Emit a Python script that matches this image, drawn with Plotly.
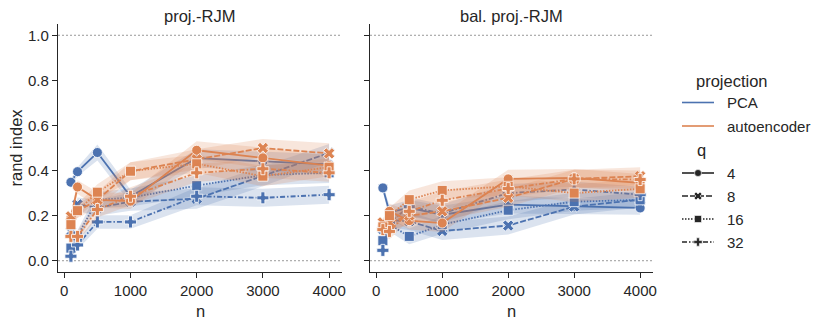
import plotly.graph_objects as go

n_values = [100, 200, 500, 1000, 2000, 3000, 4000]
q_labels = ["4", "8", "16", "32"]
panel_titles = ["proj.-RJM", "bal. proj.-RJM"]
projections = ["PCA", "autoencoder"]

# proj.-RJM
rjm_pca_q4 = [0.348, 0.395, 0.480, 0.285, 0.455, 0.440, 0.427]
rjm_pca_q8 = [0.130, 0.250, 0.235, 0.262, 0.275, 0.375, 0.478]
rjm_pca_q16 = [0.056, 0.110, 0.270, 0.280, 0.333, 0.380, 0.390]
rjm_pca_q32 = [0.020, 0.070, 0.172, 0.172, 0.286, 0.279, 0.293]
rjm_ae_q4 = [0.190, 0.327, 0.270, 0.264, 0.490, 0.456, 0.422]
rjm_ae_q8 = [0.197, 0.220, 0.270, 0.397, 0.450, 0.500, 0.476]
rjm_ae_q16 = [0.160, 0.222, 0.304, 0.397, 0.430, 0.375, 0.415]
rjm_ae_q32 = [0.108, 0.108, 0.227, 0.286, 0.390, 0.408, 0.390]

# bal. proj.-RJM
bal_pca_q4 = [0.323, 0.215, 0.234, 0.204, 0.249, 0.241, 0.234]
bal_pca_q8 = [0.140, 0.180, 0.175, 0.132, 0.156, 0.240, 0.271]
bal_pca_q16 = [0.089, 0.160, 0.108, 0.160, 0.224, 0.262, 0.270]
bal_pca_q32 = [0.046, 0.170, 0.240, 0.210, 0.300, 0.316, 0.293]
bal_ae_q4 = [0.160, 0.219, 0.178, 0.167, 0.363, 0.367, 0.345]
bal_ae_q8 = [0.170, 0.170, 0.200, 0.219, 0.279, 0.363, 0.375]
bal_ae_q16 = [0.150, 0.200, 0.271, 0.312, 0.330, 0.300, 0.319]
bal_ae_q32 = [0.138, 0.130, 0.219, 0.268, 0.320, 0.363, 0.360]

# half widths of the 95% CI bands
rjm_pca_q4_ci = [0.015, 0.020, 0.035, 0.030, 0.040, 0.045, 0.045]
rjm_pca_q8_ci = [0.020, 0.030, 0.035, 0.040, 0.045, 0.045, 0.040]
rjm_pca_q16_ci = [0.015, 0.025, 0.035, 0.040, 0.045, 0.045, 0.045]
rjm_pca_q32_ci = [0.010, 0.020, 0.030, 0.030, 0.040, 0.040, 0.040]
rjm_ae_q4_ci = [0.020, 0.030, 0.035, 0.035, 0.040, 0.045, 0.045]
rjm_ae_q8_ci = [0.025, 0.030, 0.035, 0.040, 0.045, 0.040, 0.045]
rjm_ae_q16_ci = [0.020, 0.030, 0.035, 0.040, 0.040, 0.045, 0.040]
rjm_ae_q32_ci = [0.015, 0.025, 0.035, 0.040, 0.040, 0.040, 0.040]
bal_pca_q4_ci = [0.015, 0.030, 0.035, 0.040, 0.040, 0.035, 0.030]
bal_pca_q8_ci = [0.020, 0.030, 0.040, 0.040, 0.040, 0.035, 0.035]
bal_pca_q16_ci = [0.015, 0.030, 0.035, 0.040, 0.040, 0.040, 0.035]
bal_pca_q32_ci = [0.010, 0.030, 0.040, 0.040, 0.040, 0.035, 0.035]
bal_ae_q4_ci = [0.020, 0.035, 0.040, 0.040, 0.040, 0.040, 0.040]
bal_ae_q8_ci = [0.020, 0.035, 0.040, 0.040, 0.040, 0.040, 0.040]
bal_ae_q16_ci = [0.020, 0.035, 0.040, 0.040, 0.040, 0.040, 0.040]
bal_ae_q32_ci = [0.020, 0.035, 0.040, 0.040, 0.040, 0.040, 0.040]

panels = [
    [[rjm_pca_q4, rjm_pca_q8, rjm_pca_q16, rjm_pca_q32],
     [rjm_ae_q4, rjm_ae_q8, rjm_ae_q16, rjm_ae_q32]],
    [[bal_pca_q4, bal_pca_q8, bal_pca_q16, bal_pca_q32],
     [bal_ae_q4, bal_ae_q8, bal_ae_q16, bal_ae_q32]],
]
panels_ci = [
    [[rjm_pca_q4_ci, rjm_pca_q8_ci, rjm_pca_q16_ci, rjm_pca_q32_ci],
     [rjm_ae_q4_ci, rjm_ae_q8_ci, rjm_ae_q16_ci, rjm_ae_q32_ci]],
    [[bal_pca_q4_ci, bal_pca_q8_ci, bal_pca_q16_ci, bal_pca_q32_ci],
     [bal_ae_q4_ci, bal_ae_q8_ci, bal_ae_q16_ci, bal_ae_q32_ci]],
]

colors = ["#4c72b0", "#dd8452"]
bands = ["rgba(76,114,176,0.2)", "rgba(221,132,82,0.2)"]
dashes = ["solid", "6px,2px", "1.5px,1.5px", "5px,2px,1.5px,2px"]
symbols = ["circle", "x", "square", "cross"]
ink = "#262626"
font = "Liberation Sans, Arial, sans-serif"
tick_size = 15
label_size = 16.5

# the page body adds an 8px offset, so the figure is 8px smaller than the window
W, H = 822, 315
ML, MT, MB = 50, 16, 51
PH = H - MT - MB  # 248


def py(page_y):
    # page pixel row -> paper coordinate
    return (MT + 8 + PH - page_y) / PH


def px(page_x):
    return (page_x - 8 - ML) / (W - ML)


fig = go.Figure()
axes = [("x", "y"), ("x2", "y2")]

for p, (xa, ya) in enumerate(axes):
    for h in range(2):
        for s in range(4):
            y = panels[p][h][s]
            ci = panels_ci[p][h][s]
            upper = [v + c for v, c in zip(y, ci)]
            lower = [v - c for v, c in zip(y, ci)]
            fig.add_trace(go.Scatter(x=n_values, y=upper, mode="lines", line=dict(width=0),
                                     xaxis=xa, yaxis=ya, showlegend=False, hoverinfo="skip"))
            fig.add_trace(go.Scatter(x=n_values, y=lower, mode="lines", line=dict(width=0),
                                     fill="tonexty", fillcolor=bands[h],
                                     xaxis=xa, yaxis=ya, showlegend=False, hoverinfo="skip"))
            fig.add_trace(go.Scatter(
                x=n_values, y=y, mode="lines+markers",
                line=dict(color=colors[h], width=1.8, dash=dashes[s]),
                marker=dict(symbol=symbols[s], size=10, color=colors[h],
                            line=dict(color="white", width=0.8)),
                xaxis=xa, yaxis=ya, showlegend=False,
                name=f"{projections[h]}, q={q_labels[s]}"))

# legend drawn on a hidden axis in page pixel units
for i, name in enumerate(projections):
    yy = [102.5, 126][i]
    fig.add_trace(go.Scatter(x=[682, 714], y=[yy, yy], mode="lines",
                             line=dict(color=colors[i], width=1.6),
                             xaxis="x3", yaxis="y3", showlegend=False, hoverinfo="skip"))
    fig.add_annotation(x=725, y=yy, xref="x3", yref="y3", text=name, showarrow=False,
                       xanchor="left", yanchor="middle", font=dict(size=tick_size, color=ink, family=font))
for s, lab in enumerate(q_labels):
    yy = [173, 196, 219, 242][s]
    fig.add_trace(go.Scatter(x=[682, 714], y=[yy, yy], mode="lines",
                             line=dict(color=ink, width=1.6, dash=dashes[s]),
                             xaxis="x3", yaxis="y3", showlegend=False, hoverinfo="skip"))
    fig.add_trace(go.Scatter(x=[698], y=[yy], mode="markers",
                             marker=dict(symbol=symbols[s], size=7, color=ink,
                                         line=dict(color="white", width=0.6)),
                             xaxis="x3", yaxis="y3", showlegend=False, hoverinfo="skip"))
    fig.add_annotation(x=725, y=yy, xref="x3", yref="y3", text=lab, showarrow=False,
                       xanchor="left", yanchor="middle", font=dict(size=tick_size, color=ink, family=font))
for txt, xx, yy in [("projection", 694, 81), ("q", 695, 150)]:
    fig.add_annotation(x=xx, y=yy, xref="x3", yref="y3", text=txt, showarrow=False,
                       xanchor="left", yanchor="middle", font=dict(size=label_size, color=ink, family=font))

# reference lines at 0 and 1
for xa, ya in axes:
    for level in [0.0, 1.0]:
        fig.add_shape(type="line", xref=f"{xa} domain", yref=ya, x0=0, x1=1, y0=level, y1=level,
                      line=dict(color="#999999", width=1, dash="2px,2px"), layer="below")

axis_style = dict(showline=True, linecolor=ink, linewidth=1.25, ticks="outside", ticklen=5,
                  tickwidth=1.25, tickcolor=ink, showgrid=False, zeroline=False, mirror=False,
                  automargin=False, tickfont=dict(size=tick_size, color=ink, family=font))

fig.update_layout(
    width=W, height=H,
    margin=dict(l=ML, r=0, t=MT, b=MB, autoexpand=False),
    plot_bgcolor="white", paper_bgcolor="white",
    font=dict(family=font, color=ink),
    xaxis=dict(domain=[0, 284 / 772], range=[-95, 4195], tickvals=[0, 1000, 2000, 3000, 4000],
               anchor="y", **axis_style),
    xaxis2=dict(domain=[312 / 772, 595 / 772], range=[-95, 4195], tickvals=[0, 1000, 2000, 3000, 4000],
                anchor="y2", **axis_style),
    yaxis=dict(range=[-0.05, 1.05], tickvals=[0, 0.2, 0.4, 0.6, 0.8, 1.0], tickformat=".1f",
               anchor="x", **axis_style),
    yaxis2=dict(range=[-0.05, 1.05], tickvals=[0, 0.2, 0.4, 0.6, 0.8, 1.0], showticklabels=False,
                anchor="x2", **axis_style),
    xaxis3=dict(domain=[602 / 772, 1], range=[660, 830], visible=False, anchor="y3"),
    yaxis3=dict(domain=[0, 1], range=[272, 24], visible=False, anchor="x3"),
    showlegend=False,
)

# facet titles and axis titles
for i, title in enumerate(panel_titles):
    dom = ["x domain", "x2 domain"][i]
    fig.add_annotation(x=0.5, y=py(16.5), xref=dom, yref="paper", text=title, showarrow=False,
                       xanchor="center", yanchor="middle",
                       font=dict(size=label_size, color=ink, family=font))
    fig.add_annotation(x=0.5, y=py(300), xref=dom, yref="paper", text="n", showarrow=False,
                       xanchor="center", yanchor="top",
                       font=dict(size=label_size, color=ink, family=font))
fig.add_annotation(x=px(15.5), y=0.5, xref="paper", yref="paper", text="rand index",
                   textangle=-90, showarrow=False, xanchor="center", yanchor="middle",
                   font=dict(size=label_size, color=ink, family=font))

fig.write_html("out.html")
